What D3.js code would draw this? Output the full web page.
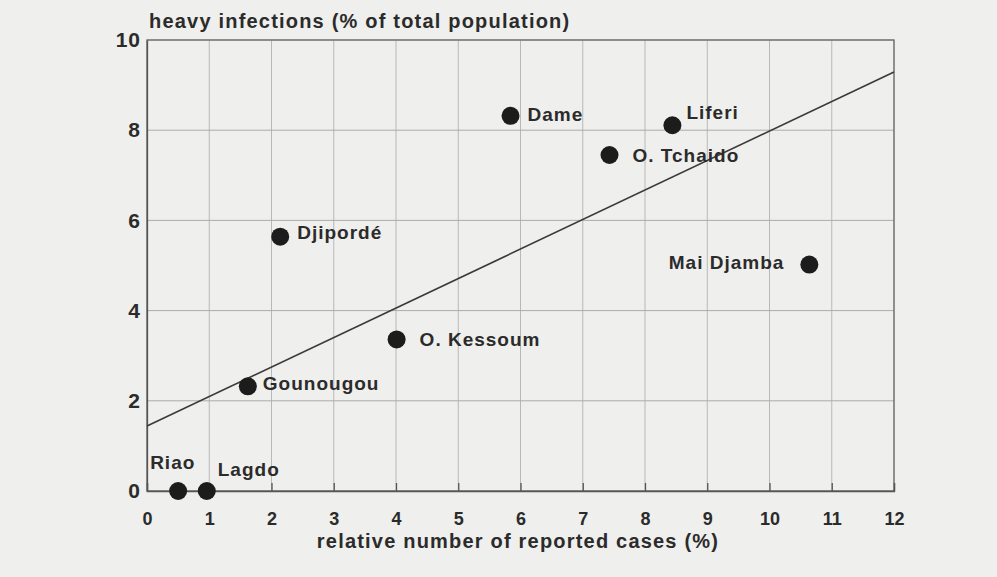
<!DOCTYPE html>
<html>
<head>
<meta charset="utf-8">
<script src="https://cdn.jsdelivr.net/npm/d3@7/dist/d3.min.js"></script>
<style>
  html, body { margin: 0; padding: 0; background: #efefed; }
  svg { display: block; }
  text { font-family: "Liberation Sans", Arial, Helvetica, sans-serif; font-weight: bold; fill: #2b2b2b; }
</style>
</head>
<body>
<svg id="chart" width="997" height="577"></svg>
<script>
// Villages: relative number of reported cases vs. heavy infections
const villages = ["Riao", "Lagdo", "Gounougou", "Djipordé", "O. Kessoum", "Dame", "O. Tchaido", "Liferi", "Mai Djamba"];
const reportedCases = [0.50, 0.96, 1.62, 2.14, 4.01, 5.84, 7.43, 8.44, 10.64];
const heavyInfections = [0.00, 0.00, 2.32, 5.64, 3.36, 8.32, 7.45, 8.11, 5.02];

// Fitted regression line, given by its two end points
const fitX = [0, 12];
const fitY = [1.44, 9.29];

// Axis ticks
const xTicks = [0, 1, 2, 3, 4, 5, 6, 7, 8, 9, 10, 11, 12];
const yTicks = [0, 2, 4, 6, 8, 10];

const yTitle = "heavy infections (% of total population)";
const xTitle = "relative number of reported cases (%)";

// Label placement around each dot: [dx, dy, anchor]
const labelPlacement = {
  "Riao": [-28, -29, "start"],
  "Lagdo": [11, -22, "start"],
  "Gounougou": [15, -3, "start"],
  "Djipordé": [17, -4, "start"],
  "O. Kessoum": [23, 0, "start"],
  "Dame": [17, -2, "start"],
  "O. Tchaido": [23, 0, "start"],
  "Liferi": [14, -13, "start"],
  "Mai Djamba": [-25, -2, "end"]
};

const svg = d3.select("#chart");
const plotL = 147, plotR = 894, plotT = 40, plotB = 491;

const x = d3.scaleLinear().domain([0, 12]).range([plotL, plotR]);
const y = d3.scaleLinear().domain([0, 10]).range([plotB, plotT]);

// Grid
const grid = svg.append("g");
grid.selectAll("line.vx").data(xTicks).join("line")
  .attr("class", "vx")
  .attr("x1", d => x(d)).attr("x2", d => x(d))
  .attr("y1", plotT).attr("y2", plotB)
  .attr("stroke", "#b8b8b6").attr("stroke-width", 1);
grid.selectAll("line.hy").data(yTicks).join("line")
  .attr("class", "hy")
  .attr("x1", plotL).attr("x2", plotR)
  .attr("y1", d => y(d)).attr("y2", d => y(d))
  .attr("stroke", "#acacaa").attr("stroke-width", 1);

// Frame
svg.append("rect")
  .attr("x", plotL).attr("y", plotT)
  .attr("width", plotR - plotL).attr("height", plotB - plotT)
  .attr("fill", "none").attr("stroke", "#6a6a68").attr("stroke-width", 1.3);

// X axis: inward ticks with labels below
const xAxis = d3.axisBottom(x).tickValues(xTicks).tickSize(-8).tickPadding(21).tickFormat(d3.format("d"));
const gx = svg.append("g").attr("transform", `translate(0,${plotB})`).call(xAxis);
gx.select(".domain").attr("stroke", "#555").attr("stroke-width", 1.3);
gx.selectAll(".tick line").attr("stroke", "#555").attr("stroke-width", 1.3);
gx.selectAll(".tick text")
  .attr("font-size", 18).attr("fill", "#2b2b2b")
  .style("font-family", "'Liberation Sans', Arial, sans-serif").style("font-weight", "bold");

// Y axis: labels only
const yAxis = d3.axisLeft(y).tickValues(yTicks).tickSize(0).tickPadding(6).tickFormat(d3.format("d"));
const gy = svg.append("g").attr("transform", `translate(${plotL},0)`).call(yAxis);
gy.select(".domain").attr("stroke", "#555").attr("stroke-width", 1.3);
gy.selectAll(".tick text")
  .attr("font-size", 21).attr("letter-spacing", 1).attr("fill", "#2b2b2b")
  .style("font-family", "'Liberation Sans', Arial, sans-serif").style("font-weight", "bold");

// Regression line
svg.append("line")
  .attr("x1", x(fitX[0])).attr("y1", y(fitY[0]))
  .attr("x2", x(fitX[1])).attr("y2", y(fitY[1]))
  .attr("stroke", "#3a3a3a").attr("stroke-width", 1.6);

// Dots
const points = villages.map((name, i) => ({ name, cx: reportedCases[i], cy: heavyInfections[i] }));
svg.append("g").selectAll("circle").data(points).join("circle")
  .attr("cx", d => x(d.cx)).attr("cy", d => y(d.cy))
  .attr("r", 9).attr("fill", "#1c1c1c");

// Village names
svg.append("g").selectAll("text").data(points).join("text")
  .attr("x", d => x(d.cx) + labelPlacement[d.name][0])
  .attr("y", d => y(d.cy) + labelPlacement[d.name][1])
  .attr("dy", "0.36em")
  .attr("text-anchor", d => labelPlacement[d.name][2])
  .attr("font-size", 19)
  .attr("letter-spacing", 1)
  .text(d => d.name);

// Axis titles
svg.append("text")
  .attr("x", 149).attr("y", 28)
  .attr("font-size", 20).attr("letter-spacing", 1.2)
  .text(yTitle);
svg.append("text")
  .attr("x", 518).attr("y", 548)
  .attr("text-anchor", "middle")
  .attr("font-size", 20).attr("letter-spacing", 1.2)
  .text(xTitle);
</script>
</body>
</html>
